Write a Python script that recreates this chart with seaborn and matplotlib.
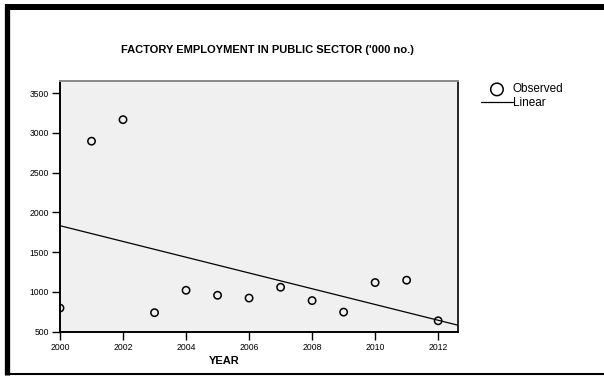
import numpy as np
import pandas as pd
import matplotlib
matplotlib.use("Agg")
import matplotlib.pyplot as plt
from matplotlib.lines import Line2D
import seaborn as sns

# data
years = [2000, 2001, 2002, 2003, 2004, 2005, 2006, 2007, 2008, 2009, 2010, 2011, 2012]
employment = [795, 2896, 3167, 737, 1019, 956, 921, 1057, 889, 744, 1116, 1146, 635]
y_ticks = [500, 1000, 1500, 2000, 2500, 3000, 3500]
x_ticks = [2000, 2002, 2004, 2006, 2008, 2010, 2012]

df = pd.DataFrame({'YEAR': years, 'EMP': employment})

sns.set_style('white')
plt.rcParams['font.family'] = ['Liberation Sans', 'DejaVu Sans']
plt.rcParams['text.color'] = 'black'
plt.rcParams['xtick.color'] = 'black'
plt.rcParams['ytick.color'] = 'black'

W, H = 604, 377
fig = plt.figure(figsize=(W / 100, H / 100), dpi=100)
ax = fig.add_axes([60 / W, 1 - 331.5 / H, 398 / W, 251 / H])
ax.set_facecolor('#f0f0f0')

ax.set_xlim(2000, 2012.63)
ax.set_ylim(500, 3660)

sns.scatterplot(data=df, x='YEAR', y='EMP', ax=ax, marker='o', s=28,
                facecolor='none', edgecolor='black', linewidth=1.1)
sns.regplot(data=df, x='YEAR', y='EMP', ax=ax, scatter=False, ci=None, truncate=False,
            color='black', line_kws={'linewidth': 0.9})
ax.set_xlim(2000, 2012.63)
ax.set_ylim(500, 3660)

# points sitting on the axis edge get cut like in the reference
for coll in ax.collections:
    coll.set_clip_on(True)
    coll.set_clip_box(ax.bbox)

ax.set_xticks(x_ticks)
ax.set_yticks(y_ticks)
ax.tick_params(axis='both', direction='out', length=6, width=1, color='black',
               labelsize=6.2, pad=2, bottom=True, left=True, labelcolor='black')
ax.set_xlabel('')
ax.set_ylabel('')

for side in ['left', 'bottom']:
    ax.spines[side].set_color('black')
    ax.spines[side].set_linewidth(1.4)
ax.spines['right'].set_color('black')
ax.spines['right'].set_linewidth(1.2)
ax.spines['top'].set_color('#8a8a8a')
ax.spines['top'].set_linewidth(1.4)

# titles
fig.text(267 / W, 1 - 50 / H, "FACTORY EMPLOYMENT IN PUBLIC SECTOR ('000 no.)",
         ha='center', va='center', fontsize=8, fontweight='bold', color='black')
fig.text(224 / W, 1 - 361.5 / H, 'YEAR', ha='center', va='center',
         fontsize=8, fontweight='bold', color='black')

# legend
obs_handle = ax.collections[0]
lin_handle = ax.lines[0]
leg = ax.legend([obs_handle, lin_handle], ['Observed', 'Linear'],
                loc='upper left', bbox_to_anchor=(481 / W, 1 - 83.5 / H),
                bbox_transform=fig.transFigure, frameon=False, fontsize=8.5,
                handletextpad=0, handlelength=2.7, labelspacing=0.15,
                markerscale=1.7, borderpad=0, borderaxespad=0)
for t in leg.get_texts():
    t.set_color('black')

# outer frame
def fx(px):
    return px / W

def fy(py):
    return 1 - py / H

fig.add_artist(Line2D([fx(7.5), fx(7.5)], [fy(4), fy(375)], color='black',
                      linewidth=3.8, transform=fig.transFigure, solid_capstyle='butt'))
fig.add_artist(Line2D([fx(5), fx(604)], [fy(7), fy(7)], color='black',
                      linewidth=4.3, transform=fig.transFigure, solid_capstyle='butt'))
fig.add_artist(Line2D([fx(5), fx(604)], [fy(373.5), fy(373.5)], color='black',
                      linewidth=1.5, transform=fig.transFigure, solid_capstyle='butt'))

fig.savefig('out.png', dpi=100, facecolor='white')
